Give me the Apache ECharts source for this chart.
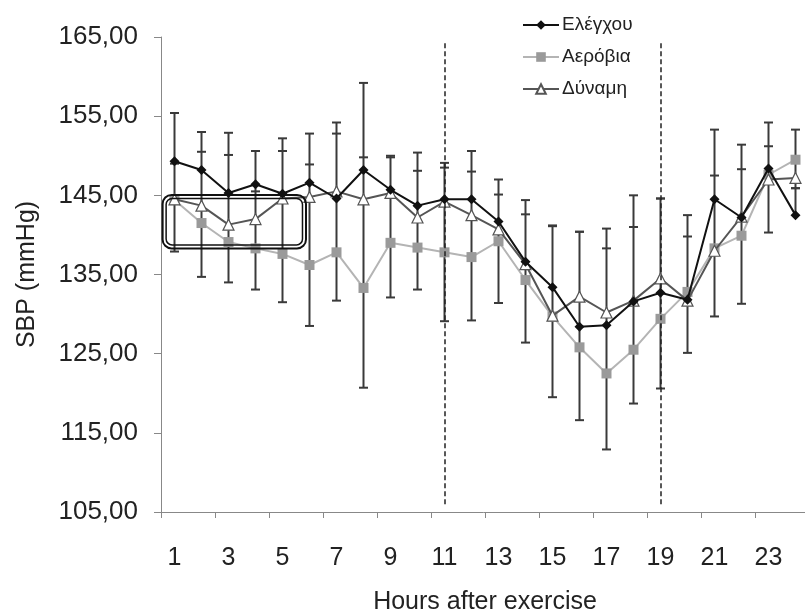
<!DOCTYPE html>
<html>
<head>
<meta charset="utf-8">
<script src="https://cdn.jsdelivr.net/npm/echarts@6/dist/echarts.min.js"></script>
<style>
  html, body { margin: 0; padding: 0; background: #fff; }
  #main { width: 805px; height: 614px; }
</style>
</head>
<body>
<div id="main"></div>
<script>
// ώρες μετά την άσκηση
var hours = ["1", "2", "3", "4", "5", "6", "7", "8", "9", "10", "11", "12",
  "13", "14", "15", "16", "17", "18", "19", "20", "21", "22", "23", "24"];

// μέσες τιμές SBP
var elegxou = [149.3, 148.2, 145.3, 146.4, 145.2, 146.6, 144.6, 148.2, 145.7, 143.7, 144.5, 144.5,
  141.7, 136.6, 133.4, 128.4, 128.6, 131.6, 132.7, 131.8, 144.5, 142.2, 148.4, 142.5];
var aerobia = [144.4, 141.5, 139.1, 138.3, 137.6, 136.2, 137.8, 133.3, 139.0, 138.4, 137.8, 137.2,
  139.2, 134.3, 129.7, 125.8, 122.5, 125.5, 129.4, 132.8, 138.3, 139.9, 147.6, 149.5];
var dynami = [144.5, 143.7, 141.3, 142.0, 144.6, 144.8, 145.5, 144.5, 145.3, 142.2, 144.2, 142.5,
  140.7, 136.3, 129.8, 132.2, 130.2, 131.7, 134.5, 131.7, 138.0, 142.3, 147.0, 147.2];

// σφάλματα (Ελέγχου/Δύναμη προς τα πάνω, Αερόβια προς τα κάτω)
var elegxouErr = [6.1, 4.8, 7.6, 4.2, 7.0, 6.2, 9.6, 11.0, 4.3, 6.7, 4.6, 6.1,
  5.3, 7.8, 7.8, 12.0, 12.2, 13.4, 11.9, 10.7, 8.8, 9.2, 5.8, 3.4];
var dynamiErr = [4.5, 6.8, 8.8, 3.5, 6.0, 4.1, 7.3, 5.3, 4.5, 5.9, 4.3, 5.5,
  4.4, 6.3, 11.3, 8.2, 8.1, 9.3, 10.1, 8.1, 9.5, 6.0, 4.2, 6.1];
var aerobiaErr = [6.5, 6.8, 5.1, 5.2, 6.1, 7.7, 6.1, 12.6, 6.9, 5.3, 8.7, 8.0,
  7.8, 7.9, 10.2, 9.2, 9.6, 6.8, 8.8, 7.7, 8.6, 8.6, 7.3, 3.6];

var markHours = ["11", "19"];
var yMin = 105, yMax = 165, yStep = 10;

var FONT = "Liberation Sans";

var errData = hours.map(function (h, i) {
  return [i, elegxou[i] + elegxouErr[i], dynami[i] + dynamiErr[i], aerobia[i] - aerobiaErr[i],
    elegxou[i], aerobia[i], dynami[i]];
});

var chartDom = document.getElementById("main");
var myChart = echarts.init(chartDom, null, { renderer: "canvas" });

var option = {
  animation: false,
  backgroundColor: "#fff",
  textStyle: { fontFamily: FONT },
  grid: { left: 161, top: 37, width: 648, height: 475, outerBoundsMode: "none", containLabel: false },
  legend: {
    orient: "vertical",
    left: 517,
    top: 10,
    itemWidth: 36,
    itemHeight: 12,
    itemGap: 12,
    data: ["Ελέγχου", "Αερόβια", "Δύναμη"],
    textStyle: { fontFamily: FONT, fontSize: 19, color: "#222", lineHeight: 20, padding: [0, 0, 0, -2] },
  },
  xAxis: {
    type: "category",
    data: hours,
    name: "Hours after exercise",
    nameLocation: "middle",
    nameGap: 78,
    nameTextStyle: { fontFamily: FONT, fontSize: 25, color: "#222" },
    axisLine: { lineStyle: { color: "#888", width: 1 } },
    axisTick: { show: true, length: 6, lineStyle: { color: "#888" } },
    axisLabel: { interval: 1, margin: 34, fontSize: 25, color: "#222", fontFamily: FONT },
  },
  yAxis: {
    type: "value",
    min: yMin,
    max: yMax,
    interval: yStep,
    name: "SBP (mmHg)",
    nameLocation: "middle",
    nameRotate: 90,
    nameGap: 121,
    nameTextStyle: { fontFamily: FONT, fontSize: 25, color: "#222" },
    splitLine: { show: false },
    axisLine: { show: true, lineStyle: { color: "#888", width: 1 } },
    axisTick: { show: true, length: 7, lineStyle: { color: "#888" } },
    axisLabel: {
      margin: 23,
      fontSize: 26,
      color: "#222",
      fontFamily: FONT,
      formatter: function (v) {
        return v.toFixed(2).replace(".", ",");
      },
    },
  },
  series: [
    {
      // error bars
      type: "custom",
      silent: true,
      z: 1,
      data: errData,
      renderItem: function (params, api) {
        var x = api.value(0);
        var ends = [api.value(1), api.value(2), api.value(3)];
        var all = ends.concat([api.value(4), api.value(5), api.value(6)]);
        var hi = Math.max.apply(null, all);
        var lo = Math.min.apply(null, all);
        var pTop = api.coord([x, hi]);
        var pBot = api.coord([x, lo]);
        var style = { stroke: "#3a3a3a", lineWidth: 2 };
        var children = [
          { type: "line", shape: { x1: pTop[0], y1: pTop[1], x2: pBot[0], y2: pBot[1] }, style: style },
        ];
        ends.forEach(function (v) {
          var p = api.coord([x, v]);
          children.push({
            type: "line",
            shape: { x1: p[0] - 4.5, y1: p[1], x2: p[0] + 4.5, y2: p[1] },
            style: style,
          });
        });
        return { type: "group", children: children };
      },
    },
    {
      name: "Αερόβια",
      type: "line",
      z: 3,
      data: aerobia,
      symbol: "rect",
      symbolSize: 10,
      itemStyle: { color: "#9a9a9a", borderWidth: 0 },
      lineStyle: { color: "#b4b4b4", width: 2 },
      markLine: {
        silent: true,
        symbol: "none",
        label: { show: false },
        lineStyle: { color: "#222", type: [5, 3], width: 1.5 },
        data: markHours.map(function (h) {
          return [{ coord: [h, 164.2] }, { coord: [h, 105.8] }];
        }),
      },
    },
    {
      name: "Δύναμη",
      type: "line",
      z: 4,
      data: dynami,
      symbol: "triangle",
      symbolSize: 11,
      itemStyle: { color: "#fff", borderColor: "#555", borderWidth: 1.2 },
      lineStyle: { color: "#555", width: 2 },
    },
    {
      name: "Ελέγχου",
      type: "line",
      z: 5,
      data: elegxou,
      symbol: "diamond",
      symbolSize: 10,
      itemStyle: { color: "#111" },
      lineStyle: { color: "#111", width: 2 },
    },
  ],
};

option && myChart.setOption(option);

// διπλό πλαίσιο γύρω από τις πρώτες ώρες
var boxFrom = -0.44, boxTo = 4.87, boxHigh = 145.05, boxLow = 138.3;
function drawBox() {
  var p0 = myChart.convertToPixel({ xAxisIndex: 0 }, hours[0]);
  var p1 = myChart.convertToPixel({ xAxisIndex: 0 }, hours[1]);
  var step = p1 - p0;
  var x0 = p0 + boxFrom * step;
  var x1 = p0 + boxTo * step;
  var y0 = myChart.convertToPixel({ yAxisIndex: 0 }, boxHigh);
  var y1 = myChart.convertToPixel({ yAxisIndex: 0 }, boxLow);
  var inset = 3.5;
  myChart.setOption({
    graphic: [
      {
        type: "rect",
        z: 10,
        shape: { x: x0, y: y0, width: x1 - x0, height: y1 - y0, r: 9 },
        style: { fill: null, stroke: "#111", lineWidth: 2 },
      },
      {
        type: "rect",
        z: 10,
        shape: { x: x0 + inset, y: y0 + inset, width: x1 - x0 - 2 * inset, height: y1 - y0 - 2 * inset, r: 6 },
        style: { fill: null, stroke: "#111", lineWidth: 1.5 },
      },
    ],
  });
}
drawBox();

window.addEventListener("resize", function () {
  myChart.resize();
  drawBox();
});
</script>
</body>
</html>
